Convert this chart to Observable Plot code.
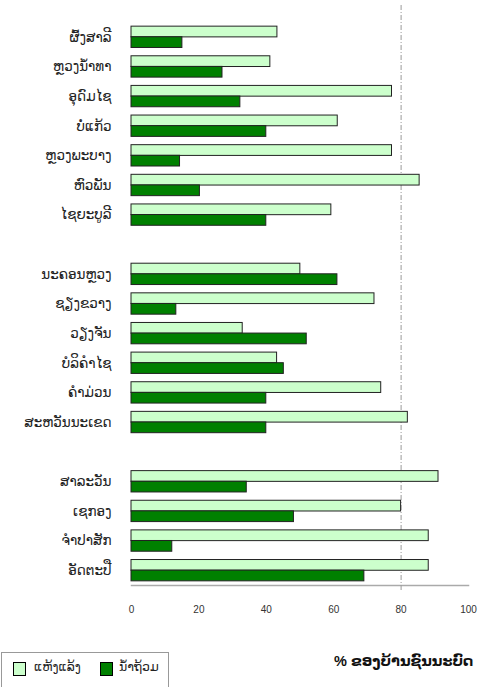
<!DOCTYPE html>
<html>
<head>
<meta charset="utf-8">
<script src="https://cdn.jsdelivr.net/npm/d3@7"></script>
<script src="https://cdn.jsdelivr.net/npm/@observablehq/plot@0.6"></script>
<style>
  html, body { margin: 0; padding: 0; background: #fff; }
  body { width: 483px; height: 687px; overflow: hidden; font-family: "Liberation Sans", "DejaVu Sans", sans-serif; }
  #bottom { position: relative; height: 47px; }
  #legend { position: absolute; left: 1px; top: 12px; width: 168px; height: 40px; border: 1px solid #999; box-sizing: border-box; font-size: 12.5px; color: #222; }
  .sw { position: absolute; top: 9px; width: 11px; height: 12px; border: 1px solid #000; }
  .lt { position: absolute; top: 6px; }
  #xtitle { position: absolute; left: 334px; top: 13px; font-size: 14.5px; font-weight: bold; color: #111; }
</style>
</head>
<body>
<div id="chart"></div>
<div id="bottom">
  <div id="legend"></div>
  <div id="xtitle"></div>
</div>
<script>
const provinces = [
  "ຜົ້ງສາລີ", "ຫຼວງນ້ຳທາ", "ອຸດົມໄຊ", "ບໍ່ແກ້ວ", "ຫຼວງພະບາງ", "ຫົວພັນ", "ໄຊຍະບູລີ",
  "ນະຄອນຫຼວງ", "ຊຽງຂວາງ", "ວຽງຈັນ", "ບໍລິຄຳໄຊ", "ຄຳມ່ວນ", "ສະຫວັນນະເຂດ",
  "ສາລະວັນ", "ເຊກອງ", "ຈຳປາສັກ", "ອັດຕະປື"
];
const drought = [43.3, 41.2, 77.3, 61.2, 77.3, 85.5, 59.3, 50.1, 72.1, 33.0, 43.2, 74.1, 82.0, 91.1, 80.0, 88.2, 88.2];
const flood   = [15.1, 27.0, 32.3, 40.0, 14.4, 20.3, 40.0, 61.1, 13.3, 52.0, 45.2, 40.0, 40.0, 34.2, 48.2, 12.1, 69.1];
const seriesNames = ["ແຫ້ງແລ້ງ", "ນ້ຳຖ້ວມ"];
const seriesColors = ["#ccffcc", "#008000"];
const xTicks = [0, 20, 40, 60, 80, 100];
const refLine = [80];
const xTitle = "% ຂອງບ້ານຊົນນະບົດ";

// y domain with spacer bands between the three regions
const spacer1 = "\u200b1", spacer2 = "\u200b2";
const yDomain = [...provinces.slice(0, 7), spacer1, ...provinces.slice(7, 13), spacer2, ...provinces.slice(13)];

const rows = provinces.map((p, i) => ({province: p, drought: drought[i], flood: flood[i]}));

const chart = Plot.plot({
  width: 483,
  height: 640,
  marginLeft: 131,
  marginRight: 15,
  marginTop: 22,
  marginBottom: 55,
  style: {fontFamily: "'Liberation Sans', 'DejaVu Sans', sans-serif", background: "#fff"},
  x: {domain: [0, 100], ticks: xTicks},
  y: {domain: yDomain, paddingInner: 0.28, paddingOuter: 0.14, round: false},
  marks: [
    Plot.frame({anchor: "bottom", stroke: "#aaa", strokeWidth: 1.5}),
    Plot.ruleX(refLine, {stroke: "#999", strokeDasharray: "5,2,1,2", insetTop: -17, insetBottom: -5}),
    Plot.barX(rows, {y: "province", x: "drought", fill: seriesColors[0], stroke: "#222", strokeWidth: 1, insetBottom: 10.6}),
    Plot.barX(rows, {y: "province", x: "flood", fill: seriesColors[1], stroke: "#222", strokeWidth: 1, insetTop: 10.6}),
    Plot.axisX({ticks: xTicks, tickSize: 0, tickPadding: 20, fontSize: 10, color: "#333", label: null}),
    Plot.axisY({ticks: provinces, tickSize: 0, tickPadding: 20, fontSize: 13.5, color: "#222", label: null})
  ]
});
document.getElementById("chart").appendChild(chart);

// legend
const legend = document.getElementById("legend");
const positions = [[11, 32], [98, 117]];
seriesNames.forEach((name, i) => {
  const sw = document.createElement("div");
  sw.className = "sw";
  sw.style.left = positions[i][0] + "px";
  sw.style.background = seriesColors[i];
  legend.appendChild(sw);
  const t = document.createElement("div");
  t.className = "lt";
  t.style.left = positions[i][1] + "px";
  t.textContent = name;
  legend.appendChild(t);
});
document.getElementById("xtitle").textContent = xTitle;
</script>
</body>
</html>
